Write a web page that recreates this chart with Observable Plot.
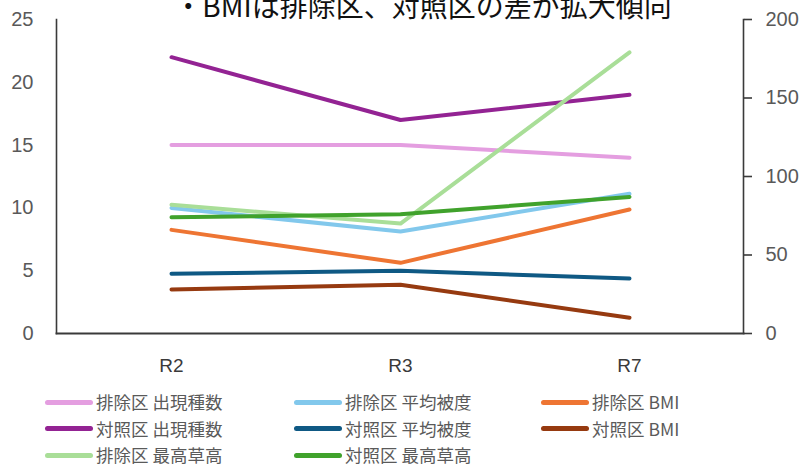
<!DOCTYPE html>
<html>
<head>
<meta charset="utf-8">
<script src="https://cdn.jsdelivr.net/npm/d3@7"></script>
<script src="https://cdn.jsdelivr.net/npm/@observablehq/plot@0.6"></script>
<style>
  body { margin: 0; background: #fff; }
  #wrap { position: relative; width: 805px; height: 468px; overflow: hidden; background: #fff; }
  #title {
    position: absolute; top: -9px; left: 0; width: 846px; text-align: center;
    font-family: "Noto Sans CJK JP", sans-serif; font-size: 28px; line-height: 28px;
    color: #111; white-space: nowrap;
  }
  #chart { position: absolute; top: 0; left: 0; }
  .item {
    position: absolute; display: flex; align-items: center; height: 26px;
    font-family: "Noto Sans CJK JP", sans-serif; font-size: 17.5px; line-height: 26px;
    color: #5a5a5a; white-space: nowrap;
  }
  .sw { display: inline-block; width: 48px; height: 5px; border-radius: 3px; margin-right: 3px; }
</style>
</head>
<body>
<div id="wrap">
  <div id="chart"></div>
  <div id="title">・BMIは排除区、対照区の差が拡大傾向</div>
  <div id="legend"></div>
</div>
<script>
// Survey rounds on the x axis
const rounds = ["R2", "R3", "R7"];

// Left axis: species count
const exclSpecies = [15, 15, 14];
const ctrlSpecies = [22, 17, 19];

// Right axis: mean cover (%), BMI, max grass height (cm)
const exclCover  = [80, 65, 89];
const ctrlCover  = [38, 40, 35];
const exclBMI    = [66, 45, 79];
const ctrlBMI    = [28, 31, 10];
const exclHeight = [82, 70, 179];
const ctrlHeight = [74, 76, 87];

// Axis tick values
const leftTicks  = [0, 5, 10, 15, 20, 25];
const rightTicks = [0, 50, 100, 150, 200];
const leftMax = 25, rightMax = 200;
const K = rightMax / leftMax; // right-axis units per left-axis unit

// Series in drawing / legend order
const series = [
  { name: "排除区 出現種数", values: exclSpecies, axis: "left",  color: "#e49ee0" },
  { name: "排除区 平均被度", values: exclCover,   axis: "right", color: "#82c8ec" },
  { name: "排除区 BMI",      values: exclBMI,     axis: "right", color: "#ee7533" },
  { name: "対照区 出現種数", values: ctrlSpecies, axis: "left",  color: "#932393" },
  { name: "対照区 平均被度", values: ctrlCover,   axis: "right", color: "#0f5984" },
  { name: "対照区 BMI",      values: ctrlBMI,     axis: "right", color: "#963a10" },
  { name: "排除区 最高草高", values: exclHeight,  axis: "right", color: "#a9de98" },
  { name: "対照区 最高草高", values: ctrlHeight,  axis: "right", color: "#40a22c" }
];

const rowsOf = s => s.values.map((v, i) => ({
  round: rounds[i],
  y: s.axis === "right" ? v / K : v
}));

const axisColor = "#3a3a3a";

const chart = Plot.plot({
  width: 805,
  height: 380,
  marginLeft: 56,
  marginRight: 62,
  marginTop: 19,
  marginBottom: 47,
  x: { type: "point", domain: rounds, padding: 0.5 },
  y: { domain: [0, leftMax] },
  style: { fontFamily: "'Liberation Sans', Arial, sans-serif", fontSize: "20px", color: "#595959", background: "transparent" },
  marks: [
    Plot.axisY({ anchor: "left", ticks: leftTicks, tickSize: 0, tickPadding: 23, label: null }),
    Plot.axisY({ anchor: "right", ticks: rightTicks.map(t => t / K), tickFormat: d => Math.round(d * K),
                 tickSize: 8, tickPadding: 14, label: null, stroke: axisColor, strokeWidth: 1.6 }),
    Plot.axisX({ tickSize: 0, tickPadding: 25, label: null, fontSize: 19, fill: "#3a3a3a", fontWeight: 500 }),
    ...series.map(s => Plot.line(rowsOf(s), {
      x: "round", y: "y", stroke: s.color, strokeWidth: 4, strokeLinecap: "round", strokeLinejoin: "round"
    })),
    Plot.frame({ anchor: "left", stroke: axisColor, strokeWidth: 1.6 }),
    Plot.frame({ anchor: "right", stroke: axisColor, strokeWidth: 1.6 }),
    Plot.frame({ anchor: "bottom", stroke: axisColor, strokeWidth: 1.8 })
  ]
});
document.getElementById("chart").appendChild(chart);

// Legend: three columns, filled row by row
const colX = [45, 294, 541];
const rowY = [389, 415.5, 442];
const legend = document.getElementById("legend");
series.forEach((s, i) => {
  const item = document.createElement("div");
  item.className = "item";
  item.style.left = colX[i % 3] + "px";
  item.style.top = rowY[Math.floor(i / 3)] + "px";
  const sw = document.createElement("span");
  sw.className = "sw";
  sw.style.background = s.color;
  item.appendChild(sw);
  item.appendChild(document.createTextNode(s.name));
  legend.appendChild(item);
});
</script>
</body>
</html>
